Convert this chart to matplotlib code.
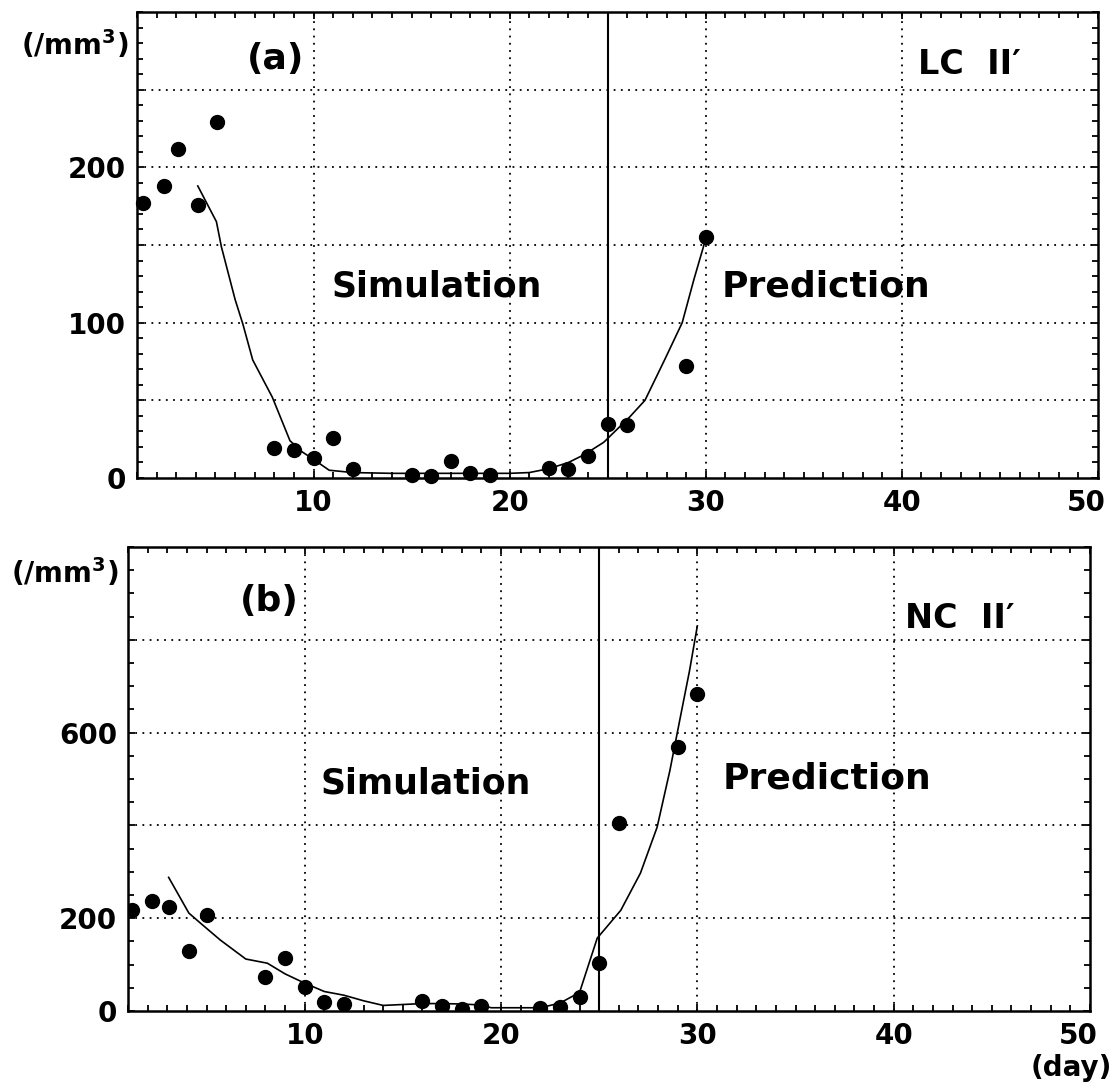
import numpy as np
import matplotlib
matplotlib.use("Agg")
import matplotlib.pyplot as plt
import matplotlib.transforms as mtransforms
from matplotlib.ticker import MultipleLocator

plt.rcParams['font.family'] = ['DejaVu Sans']
plt.rcParams['font.weight'] = 'bold'
plt.rcParams['mathtext.default'] = 'bf'

# (a) LC II' : observed counts and model curve
days_a = [1.3, 2.4, 3.1, 4.1, 5.1, 8, 9, 10, 11, 12, 15, 16, 17, 18, 19,
          22, 23, 24, 25, 26, 29, 30]
vals_a = [177, 188, 212, 176, 229, 19, 18, 13, 26, 6, 2, 1, 11, 3, 2,
          6.5, 6, 14, 35, 34, 72, 155]
curve_days_a = [4.1, 5.05, 5.3, 6.0, 6.4, 6.9, 7.9, 8.8, 9.4, 10, 10.8, 12,
                14, 16, 18, 20, 21, 22, 23, 23.8, 24.8, 26.1, 26.9, 27.9,
                28.8, 29.4, 30]
curve_vals_a = [188, 165, 149, 115, 99, 76, 52, 24, 17, 12, 5, 3.5,
                3, 3, 3, 3, 3.5, 6, 10, 15, 23, 39, 50, 76,
                100, 128, 154]

# (b) NC II'
days_b = [1.2, 2.2, 3.1, 4.1, 5.0, 8, 9, 10, 11, 12, 16, 17, 18, 19,
          22, 23, 24, 25, 26, 29, 30]
vals_b = [217, 237, 224, 129, 206, 73, 114, 52, 20, 15, 22, 11, 4, 11,
          7, 9, 30, 103, 406, 570, 684]
curve_days_b = [3.07, 4.1, 4.7, 5.7, 7.0, 8.1, 9, 10, 11, 12, 13, 14, 15, 16,
                17, 18, 19, 19.5, 20, 21, 22, 23, 24, 24.9, 26.1, 27.1,
                27.95, 28.6, 29.1, 29.6, 30]
curve_vals_b = [288, 211, 189, 153, 112, 103, 80, 60, 42, 34, 22, 12, 14, 16,
                16, 15, 13, 7, 7, 7, 7, 17, 40, 157, 217, 297,
                396, 518, 626, 733, 830]

x_ticks = [10, 20, 30, 40, 50]
grid_a = [0, 50, 100, 150, 200, 250]
ylabels_a = ['0', '', '100', '', '200', '']
grid_b = [0, 200, 400, 600, 800]
ylabels_b = ['0', '200', '', '600', '']
split_day = 25

W, H = 1115, 1086
fig = plt.figure(figsize=(W / 100, H / 100), dpi=100)


def px_axes(l, t, r, b):
    return fig.add_axes([l / W, 1 - b / H, (r - l) / W, (b - t) / H])


def style(ax, ymax, grid, ylabels, yminor):
    ax.set_xlim(1, 50)
    ax.set_ylim(0, ymax)
    ax.set_xticks(x_ticks)
    ax.set_yticks(grid, labels=ylabels)
    ax.xaxis.set_minor_locator(MultipleLocator(1))
    ax.yaxis.set_minor_locator(MultipleLocator(yminor))
    ax.tick_params(which='both', direction='in', top=True, right=True,
                   width=1.3, labelsize=20, pad=8)
    ax.tick_params(which='major', length=5)
    ax.tick_params(which='minor', length=4)
    for s in ax.spines.values():
        s.set_linewidth(1.8)
    for t in ax.get_xticklabels() + ax.get_yticklabels():
        t.set_fontweight('bold')
    # pull the "50" label back inside the figure
    last = ax.get_xticklabels()[-1]
    last.set_transform(last.get_transform() +
                       mtransforms.ScaledTranslation(-12 / 100, 0, fig.dpi_scale_trans))
    for g in x_ticks[:-1]:
        ax.axvline(g, color='k', lw=1.3, ls=(0, (1, 3)), zorder=1)
    for g in grid[1:]:
        ax.axhline(g, color='k', lw=1.3, ls=(0, (1, 3)), zorder=1)
    ax.axvline(split_day, color='k', lw=1.5, zorder=2)


ax1 = px_axes(137, 12, 1098, 478)
style(ax1, 300, grid_a, ylabels_a, 10)
ax1.plot(curve_days_a, curve_vals_a, color='k', lw=1.2, zorder=3)
ax1.plot(days_a, vals_a, 'o', color='k', ms=10, zorder=4, clip_on=False)
ax1.text(6.6, 270, '(a)', fontsize=26, va='center')
ax1.text(40.8, 266, 'LC  II\u2032', fontsize=24, va='center')
ax1.text(10.9, 123, 'Simulation', fontsize=25, va='center')
ax1.text(30.8, 123, 'Prediction', fontsize=26, va='center')

ax2 = px_axes(128, 547, 1090, 1011)
style(ax2, 1000, grid_b, ylabels_b, 50)
ax2.plot(curve_days_b, curve_vals_b, color='k', lw=1.2, zorder=3)
ax2.plot(days_b, vals_b, 'o', color='k', ms=10, zorder=4)
ax2.text(6.7, 884, '(b)', fontsize=26, va='center')
ax2.text(40.6, 845, 'NC  II\u2032', fontsize=24, va='center')
ax2.text(10.8, 490, 'Simulation', fontsize=25, va='center')
ax2.text(31.3, 501, 'Prediction', fontsize=26, va='center')

fig.text(75 / W, 1 - 45 / H, '(/mm$^{3}$)', fontsize=20, ha='center', va='center')
fig.text(65 / W, 1 - 573 / H, '(/mm$^{3}$)', fontsize=20, ha='center', va='center')
fig.text(1112 / W, 1 - 1068 / H, '(day)', fontsize=20, ha='right', va='center')

fig.savefig('out.png', dpi=100)
